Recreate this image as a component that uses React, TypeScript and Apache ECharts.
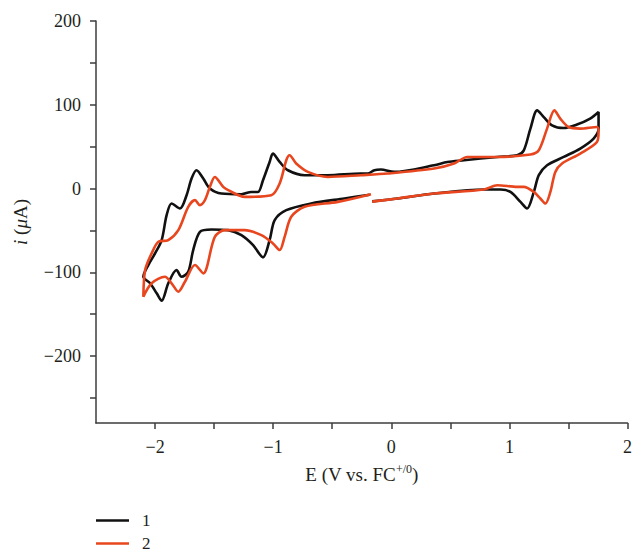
import React, { useEffect, useRef } from "react";
import * as echarts from "echarts";

// Series 1 (black): potential (V vs Fc+/0) and current (µA), in scan order
const E1 = [
  -0.162, 0.053, 0.363, 0.785, 0.925, 1.009, 1.094, 1.15, 1.207, 1.249, 1.319, 1.46, 1.6, 1.713, 1.755, 1.755,
  1.684, 1.572, 1.46, 1.361, 1.291, 1.235, 1.178, 1.122, 1.066, 0.897, 0.616, 0.475, 0.363, 0.025, -0.088, -0.143,
  -0.2, -0.257, -0.538, -0.734, -0.875, -0.945, -1.002, -1.03, -1.086, -1.128, -1.185, -1.269, -1.438, -1.536,
  -1.592, -1.649, -1.691, -1.733, -1.789, -1.86, -1.902, -1.944, -2.0, -2.057, -2.099,
  -2.042, -1.986, -1.944, -1.888, -1.818, -1.776, -1.719, -1.677, -1.62, -1.522, -1.381, -1.269, -1.17, -1.086,
  -1.03, -0.987, -0.889, -0.678, -0.397, -0.183,
];
const I1 = [
  -15.4, -11.9, -6.0, -1.2, -1.2, -4.1, -16.0, -23.8, -4.1, 15.9, 27.8, 37.7, 47.7, 59.6, 71.5, 91.3,
  83.4, 76.3, 72.2, 75.4, 85.3, 93.3, 71.5, 45.6, 39.7, 37.7, 33.7, 31.7, 27.8, 19.8, 22.6, 21.8,
  17.9, 17.9, 15.9, 15.9, 21.8, 31.7, 41.7, 31.7, 9.9, -4.1, -4.1, -6.8, -6.0, 0,
  11.9, 21.8, 11.9, -8.0, -23.8, -17.9, -31.8, -61.6, -77.5, -91.4, -105.4,
  -113.2, -125.1, -134.0, -113.2, -97.4, -105.4, -99.4, -73.5, -51.7, -48.9, -49.7, -55.7, -67.6, -82.2,
  -61.6, -37.8, -25.9, -17.9, -11.9, -7.4,
];

// Series 2 (red)
const E2 = [
  -0.162, 0.053, 0.363, 0.785, 0.897, 1.066, 1.122, 1.207, 1.262, 1.305, 1.347, 1.389, 1.446, 1.6, 1.741, 1.755, 1.741,
  1.6, 1.502, 1.431, 1.381, 1.319, 1.249, 1.178, 0.897, 0.644, 0.532, 0.363, -0.031, -0.257, -0.538, -0.706,
  -0.805, -0.861, -0.889, -0.945, -1.016, -1.241, -1.381, -1.423, -1.494, -1.536, -1.578, -1.62, -1.662, -1.719,
  -1.803, -1.888, -1.972, -2.029, -2.084, -2.099,
  -2.029, -1.916, -1.86, -1.803, -1.747, -1.662, -1.592, -1.494, -1.409, -1.241, -1.1, -1.002, -0.945, -0.903,
  -0.847, -0.734, -0.453, -0.172,
];
const I2 = [
  -15.7, -11.9, -6.0, -1.2, 3.9, 1.9, 1.9, -4.1, -11.9, -17.9, -4.1, 19.8, 29.8, 41.7, 55.5, 67.5, 73.4,
  71.5, 73.4, 83.4, 93.3, 71.5, 45.6, 40.5, 37.7, 37.7, 29.8, 23.8, 17.9, 15.9, 13.8, 19.8,
  29.8, 39.7, 33.7, 6.0, -8.0, -10.0, -2.0, 1.9, 13.8, 1.9, -13.9, -19.9, -13.9, -21.9,
  -49.7, -61.6, -63.6, -77.5, -97.4, -129.2,
  -113.2, -105.4, -113.2, -123.2, -111.3, -91.4, -101.3, -57.7, -49.7, -49.7, -55.7, -65.6, -73.5, -57.7,
  -33.8, -21.9, -16.0, -6.8,
];

const SERIES_NAMES = ["1", "2"];
const X_LABELS = [-2, -1, 0, 1, 2];
const X_TICKS = [-2, -1.5, -1, -0.5, 0, 0.5, 1, 1.5, 2];
const Y_LABELS = [-200, -100, 0, 100, 200];
const Y_TICKS = [-250, -200, -150, -100, -50, 0, 50, 100, 150, 200];

const zip = (xs: number[], ys: number[]) => xs.map((x, i) => [x, ys[i]]);
const minus = (v: number) => String(v).replace("-", "\u2212");

const FONT = "'Liberation Serif', 'DejaVu Serif', serif";
const TEXT = "#231f20";
const AXIS = "#3d3d3d";
const BLACK = "#111111";
const RED = "#e8461e";

const legendItem = (name: string, top: number) => ({
  orient: "vertical",
  left: 96,
  top,
  padding: 0,
  icon: "rect",
  itemWidth: 33,
  itemHeight: 2.5,
  textStyle: { fontFamily: FONT, fontSize: 17, lineHeight: 15, color: TEXT, padding: [0, 0, 0, 8] },
  data: [name],
});

export default function App() {
  const ref = useRef<HTMLDivElement>(null);
  useEffect(() => {
    if (!ref.current) return;
    const chart = echarts.init(ref.current, null, { renderer: "svg" });
    chart.setOption({
      animation: false,
      backgroundColor: "#ffffff",
      textStyle: { fontFamily: FONT, color: TEXT },
      grid: { left: 96, right: 4, top: 21, bottom: 130 },
      legend: [legendItem(SERIES_NAMES[0], 512), legendItem(SERIES_NAMES[1], 535)],
      xAxis: {
        type: "value",
        min: -2.5,
        max: 2,
        name: "E (V vs. FC{sup|+/0})",
        nameLocation: "middle",
        nameGap: 40,
        nameTextStyle: {
          fontFamily: FONT,
          fontSize: 19,
          color: TEXT,
          rich: { sup: { fontFamily: FONT, fontSize: 12, color: TEXT, padding: [0, 0, 10, 0] } },
        },
        axisLine: { show: true, onZero: false, lineStyle: { color: AXIS, width: 1.5 } },
        axisTick: { show: true, customValues: X_TICKS, length: 6, lineStyle: { color: AXIS, width: 1.5 } },
        axisLabel: {
          customValues: X_LABELS,
          formatter: (v: number) => minus(v),
          fontFamily: FONT,
          fontSize: 18,
          color: TEXT,
          margin: 15,
        },
        splitLine: { show: false },
      },
      yAxis: {
        type: "value",
        min: -280,
        max: 200,
        name: "{it|i} ({it|\u03bc}A)",
        nameLocation: "middle",
        nameGap: 66,
        nameTextStyle: {
          fontFamily: FONT,
          fontSize: 19,
          color: TEXT,
          rich: { it: { fontFamily: FONT, fontSize: 19, color: TEXT, fontStyle: "italic" } },
        },
        axisLine: { show: true, onZero: false, lineStyle: { color: AXIS, width: 1.5 } },
        axisTick: { show: true, customValues: Y_TICKS, length: 6, lineStyle: { color: AXIS, width: 1.5 } },
        axisLabel: {
          customValues: Y_LABELS,
          formatter: (v: number) => minus(v),
          fontFamily: FONT,
          fontSize: 18,
          color: TEXT,
          margin: 15,
        },
        splitLine: { show: false },
      },
      series: [
        {
          name: SERIES_NAMES[0],
          type: "line",
          data: zip(E1, I1),
          showSymbol: false,
          smooth: 0.3,
          color: BLACK,
          lineStyle: { color: BLACK, width: 2.6 },
        },
        {
          name: SERIES_NAMES[1],
          type: "line",
          data: zip(E2, I2),
          showSymbol: false,
          smooth: 0.3,
          color: RED,
          lineStyle: { color: RED, width: 2.6 },
        },
      ],
    });
    return () => chart.dispose();
  }, []);
  return <div ref={ref} style={{ position: "fixed", left: 0, top: 0, width: 635, height: 553 }} />;
}
